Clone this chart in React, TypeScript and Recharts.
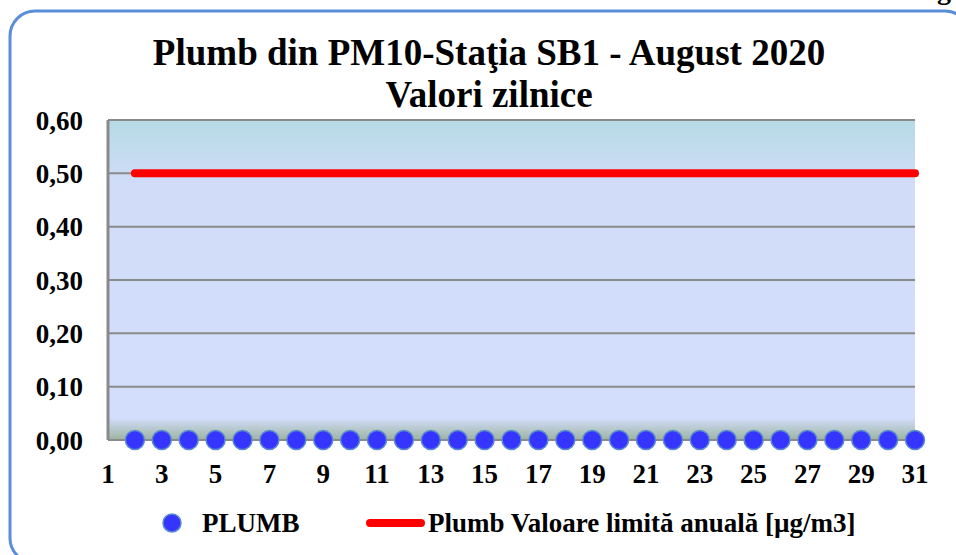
import React from 'react';
import { ComposedChart, Line, XAxis, YAxis, CartesianGrid } from 'recharts';

const days = [2, 3, 4, 5, 6, 7, 8, 9, 10, 11, 12, 13, 14, 15, 16, 17, 18, 19, 20, 21, 22, 23, 24, 25, 26, 27, 28, 29, 30, 31];
const plumbValues = [0, 0, 0, 0, 0, 0, 0, 0, 0, 0, 0, 0, 0, 0, 0, 0, 0, 0, 0, 0, 0, 0, 0, 0, 0, 0, 0, 0, 0, 0];
const limitValues = [0.5, 0.5, 0.5, 0.5, 0.5, 0.5, 0.5, 0.5, 0.5, 0.5, 0.5, 0.5, 0.5, 0.5, 0.5, 0.5, 0.5, 0.5, 0.5, 0.5, 0.5, 0.5, 0.5, 0.5, 0.5, 0.5, 0.5, 0.5, 0.5, 0.5];
const xTicks = [1, 3, 5, 7, 9, 11, 13, 15, 17, 19, 21, 23, 25, 27, 29, 31];
const yTicks = [0, 0.1, 0.2, 0.3, 0.4, 0.5, 0.6];
const titleLine1 = 'Plumb din PM10-Staţia SB1 - August 2020';
const titleLine2 = 'Valori zilnice';
const seriesNames = ['PLUMB', 'Plumb Valoare limită anuală [µg/m3]'];

const data = days.map((d, i) => ({ day: d, plumb: plumbValues[i], limit: limitValues[i] }));

const FONT = '"Liberation Serif", "Times New Roman", serif';

export default function App() {
  return (
    <div style={{ position: 'absolute', left: 0, top: 0, width: 956, height: 555, background: '#fff', overflow: 'hidden' }}>
      <div style={{ position: 'absolute', left: 0, top: 0 }}>
        <ComposedChart width={956} height={555} data={data} margin={{ top: 120, right: 41, bottom: 0, left: 0 }}>
          <defs>
            <linearGradient id="plotBg" x1="0" y1="0" x2="0" y2="1">
              <stop offset="0" stopColor="#b5dbe5" />
              <stop offset="0.2" stopColor="#d1dcf8" />
              <stop offset="0.93" stopColor="#d3defd" />
              <stop offset="1" stopColor="#9db3a0" />
            </linearGradient>
          </defs>
          <CartesianGrid vertical={false} fill="url(#plotBg)" fillOpacity={1} stroke="#8a8a8a" strokeWidth={2} />
          <XAxis
            type="number"
            dataKey="day"
            domain={[1, 31]}
            ticks={xTicks}
            interval={0}
            height={115}
            axisLine={false}
            tickLine={false}
            tickSize={0}
            tickMargin={24}
            tick={{ fill: '#000', fontSize: 27, fontWeight: 'bold', fontFamily: FONT }}
          />
          <YAxis
            type="number"
            domain={[0, 0.6]}
            ticks={yTicks}
            interval={0}
            width={108}
            axisLine={{ stroke: '#8a8a8a', strokeWidth: 3 }}
            tickLine={false}
            tickSize={0}
            tickMargin={25}
            tickFormatter={(v: number) => v.toFixed(2).replace('.', ',')}
            tick={{ fill: '#000', fontSize: 27, fontWeight: 'bold', fontFamily: FONT }}
          />
          <Line
            dataKey="limit"
            stroke="#ff0000"
            strokeWidth={8}
            strokeLinecap="round"
            dot={false}
            activeDot={false}
            isAnimationActive={false}
          />
          <Line
            dataKey="plumb"
            stroke="none"
            dot={{ r: 9.5, fill: '#3535ff', stroke: '#5a8bd0', strokeWidth: 1.5 }}
            activeDot={false}
            isAnimationActive={false}
          />
        </ComposedChart>
      </div>
      <svg width={956} height={555} style={{ position: 'absolute', left: 0, top: 0, pointerEvents: 'none' }}>
        <rect x={10} y={11} width={960} height={552} rx={25} ry={25} fill="none" stroke="#5b8ed8" strokeWidth={3} />
        <text x={937} y={-1} fontFamily={FONT} fontWeight="bold" fontSize={28} fill="#000">g</text>
        <text x={489} y={65} textAnchor="middle" fontFamily={FONT} fontWeight="bold" fontSize={37} fill="#000">{titleLine1}</text>
        <text x={489} y={107} textAnchor="middle" fontFamily={FONT} fontWeight="bold" fontSize={37} fill="#000">{titleLine2}</text>
        <circle cx={172} cy={523} r={9} fill="#3535ff" stroke="#5a8bd0" strokeWidth={1.5} />
        <text x={202} y={532} fontFamily={FONT} fontWeight="bold" fontSize={27} fill="#000">{seriesNames[0]}</text>
        <line x1={370} y1={523} x2={421} y2={523} stroke="#ff0000" strokeWidth={8} strokeLinecap="round" />
        <text x={428} y={532} fontFamily={FONT} fontWeight="bold" fontSize={27} fill="#000">{seriesNames[1]}</text>
      </svg>
    </div>
  );
}
